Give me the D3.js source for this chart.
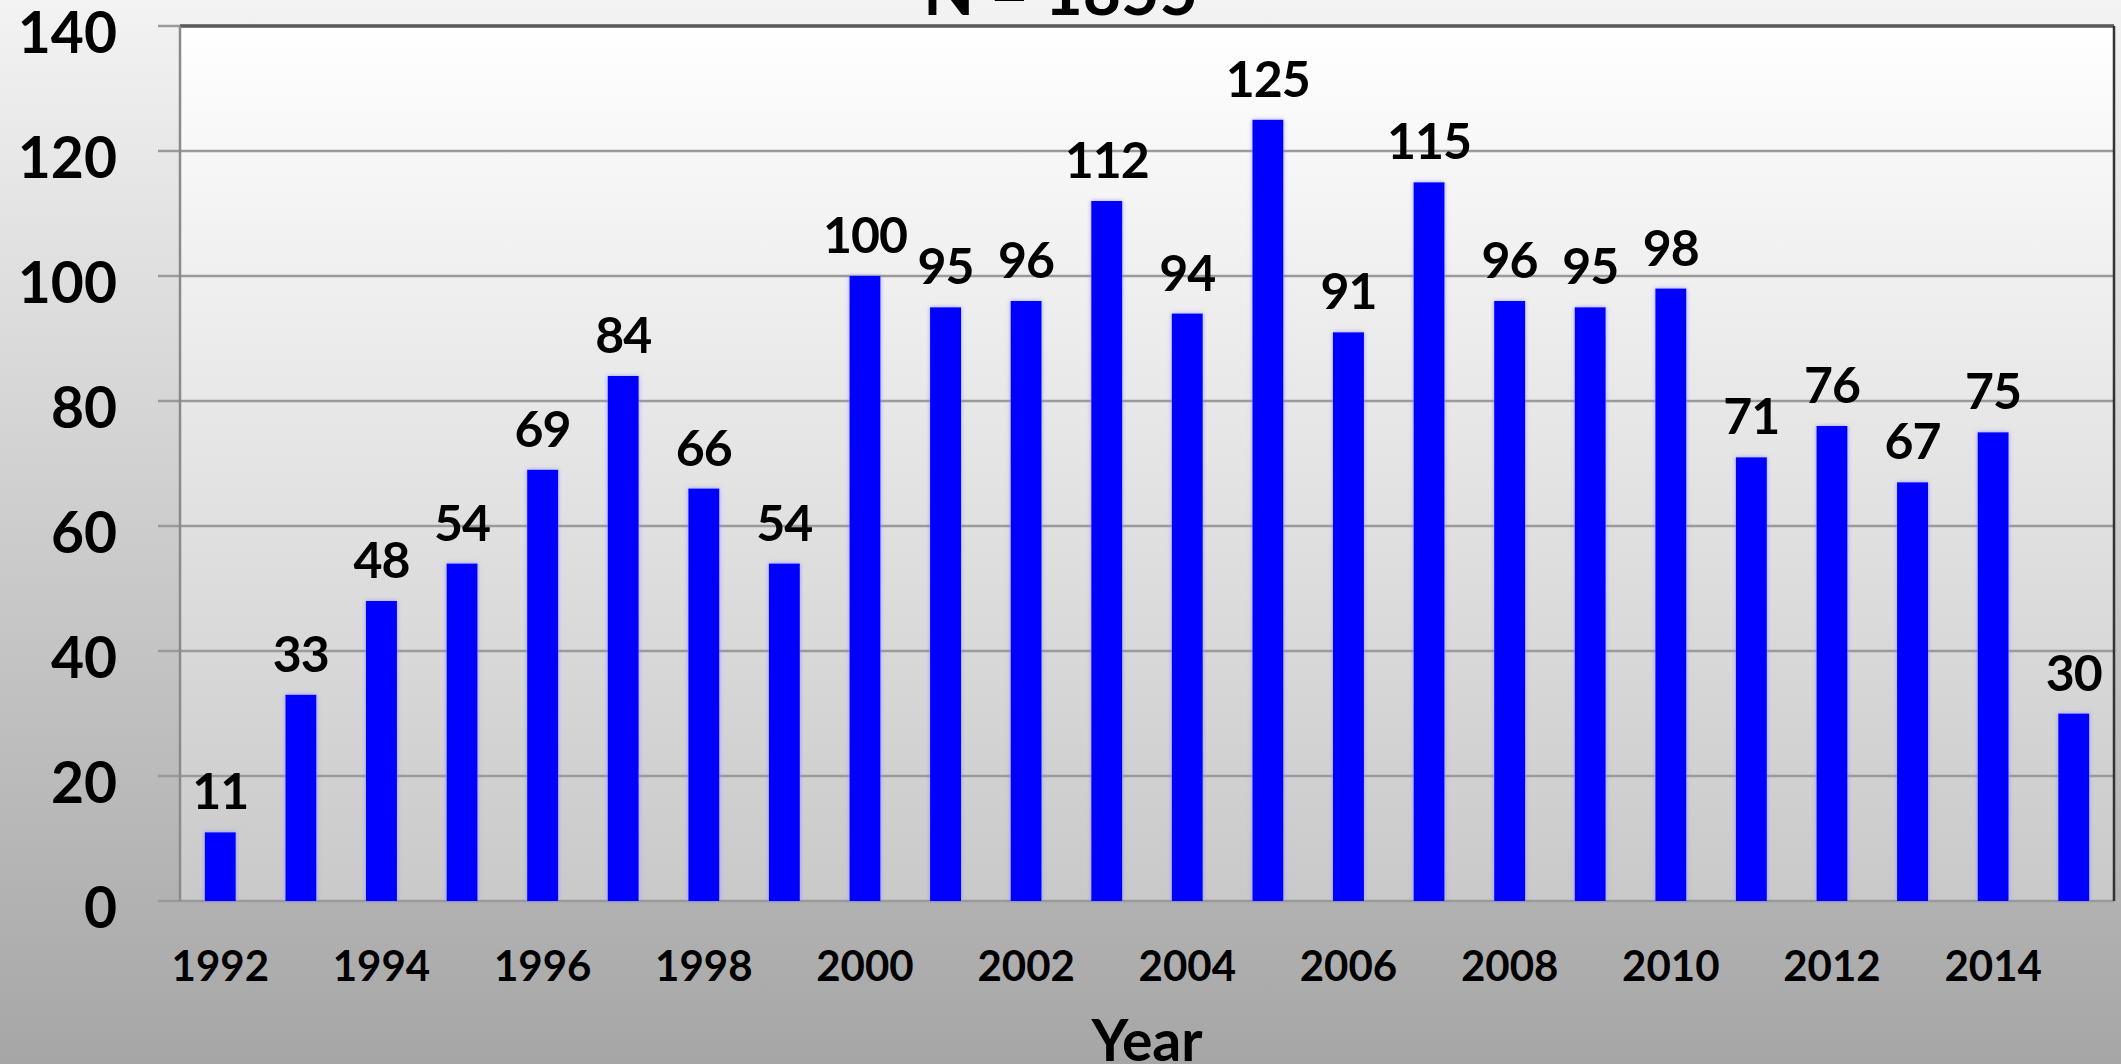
<!DOCTYPE html>
<html>
<head>
<meta charset="utf-8">
<script src="https://cdn.jsdelivr.net/npm/d3@7"></script>
<style>
    html, body { margin: 0; padding: 0; overflow: hidden; }
    svg { display: block; font-family: Lato, "Open Sans", sans-serif; font-weight: bold; }
</style>
</head>
<body>
<div id="chart"></div>
<script>
// data
const years = ["1992", "1993", "1994", "1995", "1996", "1997", "1998", "1999", "2000", "2001", "2002", "2003",
    "2004", "2005", "2006", "2007", "2008", "2009", "2010", "2011", "2012", "2013", "2014", "2015"];
const counts = [11, 33, 48, 54, 69, 84, 66, 54, 100, 95, 96, 112, 94, 125, 91, 115, 96, 95, 98, 71, 76, 67, 75, 30];
const yTicks = [0, 20, 40, 60, 80, 100, 120, 140];
const xTickLabels = ["1992", "1994", "1996", "1998", "2000", "2002", "2004", "2006", "2008", "2010", "2012", "2014"];
const title = "N = 1855";
const xTitle = "Year";

class BarChart {
    constructor(container, config) {
        this.config = config;
        this.container = d3.select(container);
    }

    Draw() {
        const c = this.config;
        this.svg = this.container.append("svg")
            .attr("width", c.width)
            .attr("height", c.height);

        this._defs();
        this.svg.append("rect")
            .attr("width", c.width).attr("height", c.height)
            .attr("fill", "url(#bgGrad)");

        this.plotW = c.width - c.margin.left - c.margin.right;
        this.plotH = c.height - c.margin.top - c.margin.bottom;

        this.x = d3.scaleBand()
            .domain(years)
            .range([0, this.plotW])
            .paddingInner(0.615)
            .paddingOuter(0.3075);
        this.y = d3.scaleLinear()
            .domain([0, 140])
            .range([this.plotH, 0]);

        this.g = this.svg.append("g")
            .attr("transform", `translate(${c.margin.left},${c.margin.top})`);

        this._drawGrid();
        this._drawBars();
        this._drawAxes();
        this._drawTitles();
    }

    _defs() {
        const defs = this.svg.append("defs");
        let bg = defs.append("linearGradient").attr("id", "bgGrad")
            .attr("x1", 0).attr("y1", 0).attr("x2", 0).attr("y2", 1);
        bg.append("stop").attr("offset", "0%").attr("stop-color", "#f3f3f3");
        bg.append("stop").attr("offset", "100%").attr("stop-color", "#a6a6a6");

        let plot = defs.append("linearGradient").attr("id", "plotGrad")
            .attr("x1", 0).attr("y1", 0).attr("x2", 0).attr("y2", 1);
        plot.append("stop").attr("offset", "0%").attr("stop-color", "#ffffff");
        plot.append("stop").attr("offset", "100%").attr("stop-color", "#c9c9c9");

        // soft glow around the bars
        let glow = defs.append("filter").attr("id", "glow")
            .attr("x", "-30%").attr("y", "-5%").attr("width", "160%").attr("height", "110%");
        glow.append("feGaussianBlur").attr("in", "SourceAlpha").attr("stdDeviation", 2).attr("result", "blur");
        glow.append("feFlood").attr("flood-color", "#8a8aff").attr("flood-opacity", 0.8);
        glow.append("feComposite").attr("in2", "blur").attr("operator", "in").attr("result", "halo");
        let merge = glow.append("feMerge");
        merge.append("feMergeNode").attr("in", "halo");
        merge.append("feMergeNode").attr("in", "SourceGraphic");
    }

    _drawGrid() {
        const tickOut = 22;
        this.g.append("rect")
            .attr("width", this.plotW)
            .attr("height", this.plotH)
            .attr("fill", "url(#plotGrad)");

        this.g.append("g").attr("class", "grid")
            .selectAll("line")
            .data(yTicks)
            .join("line")
            .attr("x1", -tickOut)
            .attr("x2", this.plotW)
            .attr("y1", d => this.y(d))
            .attr("y2", d => this.y(d))
            .attr("stroke", "#9a9a9a")
            .attr("stroke-width", 2.5);

        // frame: dark top and right, grey left
        this.g.append("line")
            .attr("x1", 0).attr("x2", this.plotW)
            .attr("y1", this.y(140)).attr("y2", this.y(140))
            .attr("stroke", "#5a5a5a").attr("stroke-width", 3.5);
        this.g.append("line")
            .attr("x1", this.plotW).attr("x2", this.plotW)
            .attr("y1", this.y(140)).attr("y2", this.y(0))
            .attr("stroke", "#333").attr("stroke-width", 2.5);
        this.g.append("line")
            .attr("x1", 0).attr("x2", 0)
            .attr("y1", this.y(140)).attr("y2", this.y(0))
            .attr("stroke", "#8a8a8a").attr("stroke-width", 2.5);
    }

    _drawBars() {
        const data = years.map((yr, i) => ({ year: yr, value: counts[i] }));

        this.g.append("g").attr("class", "bars")
            .selectAll("rect")
            .data(data)
            .join("rect")
            .attr("x", d => this.x(d.year))
            .attr("y", d => this.y(d.value))
            .attr("width", this.x.bandwidth())
            .attr("height", d => this.y(0) - this.y(d.value))
            .attr("fill", "#0000ff")
            .attr("filter", "url(#glow)");

        this.g.append("g").attr("class", "data-labels")
            .selectAll("text")
            .data(data)
            .join("text")
            .attr("x", d => this.x(d.year) + this.x.bandwidth() / 2)
            .attr("y", d => this.y(d.value) - 23)
            .attr("text-anchor", "middle")
            .attr("font-size", 50)
            .attr("letter-spacing", -1)
            .attr("fill", "#000")
            .text(d => d.value);
    }

    _drawAxes() {
        const yAxis = this.g.append("g")
            .call(d3.axisLeft(this.y).tickValues(yTicks).tickSize(0).tickPadding(63));
        yAxis.select(".domain").remove();
        yAxis.selectAll("text")
            .attr("dy", "0.47em")
            .attr("font-size", 57)
            .attr("font-family", "Lato, sans-serif")
            .attr("fill", "#000");

        const xAxis = this.g.append("g")
            .attr("transform", `translate(0,${this.plotH})`)
            .call(d3.axisBottom(this.x).tickValues(xTickLabels).tickSize(0));
        xAxis.select(".domain").remove();
        xAxis.selectAll("text")
            .attr("y", 80)
            .attr("dy", 0)
            .attr("font-size", 42)
            .attr("font-family", "Lato, sans-serif")
            .attr("fill", "#000");
    }

    _drawTitles() {
        const c = this.config;
        this.svg.append("text")
            .attr("x", c.width / 2)
            .attr("y", 15)
            .attr("text-anchor", "middle")
            .attr("font-size", 66)
            .text(title);

        this.svg.append("text")
            .attr("x", c.margin.left + this.plotW / 2)
            .attr("y", 1061)
            .attr("text-anchor", "middle")
            .attr("font-size", 57)
            .text(xTitle);
    }
}

const chart = new BarChart("#chart", {
    width: 2121,
    height: 1064,
    margin: { top: 26, right: 7, bottom: 163, left: 180 }
});
chart.Draw();
</script>
</body>
</html>
